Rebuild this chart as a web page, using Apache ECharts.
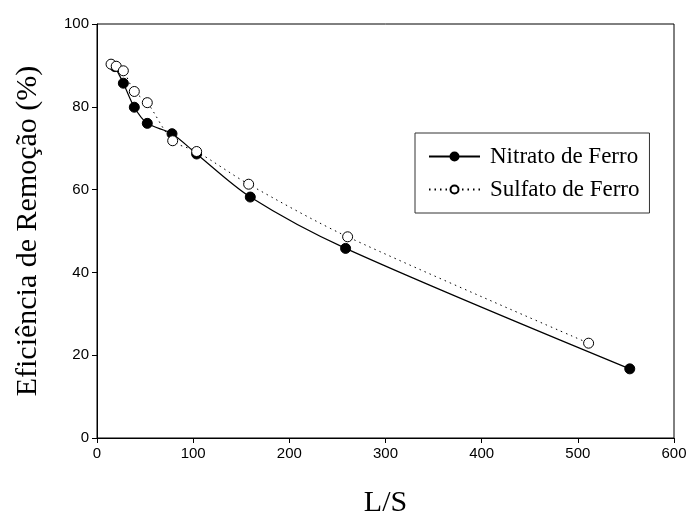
<!DOCTYPE html>
<html>
<head>
<meta charset="utf-8">
<script src="https://cdn.jsdelivr.net/npm/echarts@6/dist/echarts.min.js"></script>
<style>
  html, body { margin: 0; padding: 0; background: #fff; }
  #chart { width: 688px; height: 513px; }
</style>
</head>
<body>
<div id="chart"></div>
<script>
// Removal efficiency vs. liquid/solid ratio for two iron coagulants
const seriesNames = ['Nitrato de Ferro', 'Sulfato de Ferro'];

const nitratoLS  = [18.7, 27.4, 38.8, 52.3, 78.0, 103.6, 159.4, 258.5, 554.0];
const nitratoEff = [89.7, 85.7, 79.9, 76.0, 73.5, 68.6, 58.2, 45.8, 16.7];

const sulfatoLS  = [14.6, 20.0, 27.4, 38.8, 52.3, 78.7, 103.6, 157.7, 260.6, 511.2];
const sulfatoEff = [90.3, 89.8, 88.7, 83.7, 81.0, 71.8, 69.2, 61.3, 48.6, 22.9];

const xTicks = [0, 100, 200, 300, 400, 500, 600];
const yTicks = [0, 20, 40, 60, 80, 100];

const pair = (xs, ys) => xs.map((x, i) => [x, ys[i]]);

const serif = 'Liberation Serif, Times New Roman, serif';
const sans = 'Liberation Sans, Arial, sans-serif';

const chart = echarts.init(document.getElementById('chart'), null, { renderer: 'canvas' });

chart.setOption({
  animation: false,
  backgroundColor: '#fff',
  grid: {
    left: 97, right: 14, top: 24, bottom: 75,
    containLabel: false,
    outerBoundsMode: 'none',
    show: true, borderColor: '#000', borderWidth: 1, backgroundColor: 'transparent'
  },
  xAxis: {
    type: 'value',
    min: xTicks[0], max: xTicks[xTicks.length - 1], interval: 100,
    name: 'L/S', nameLocation: 'middle', nameGap: 50,
    nameTextStyle: { fontFamily: serif, fontSize: 30, color: '#000' },
    axisLine: { show: true, lineStyle: { color: '#000', width: 1 } },
    axisTick: { show: true, inside: false, length: 5, lineStyle: { color: '#000' } },
    axisLabel: { fontFamily: sans, fontSize: 15, color: '#000', margin: 8 },
    splitLine: { show: false }
  },
  yAxis: {
    type: 'value',
    min: yTicks[0], max: yTicks[yTicks.length - 1], interval: 20,
    name: 'Eficiência de Remoção (%)', nameLocation: 'middle', nameGap: 54,
    nameTextStyle: { fontFamily: serif, fontSize: 30, color: '#000' },
    axisLine: { show: true, lineStyle: { color: '#000', width: 1 } },
    axisTick: { show: true, inside: false, length: 5, lineStyle: { color: '#000' } },
    axisLabel: { fontFamily: sans, fontSize: 15, color: '#000', margin: 8 },
    splitLine: { show: false }
  },
  legend: {
    orient: 'vertical',
    left: 415, top: 133,
    padding: [12, 10, 12, 13],
    itemGap: 10,
    itemWidth: 51, itemHeight: 10,
    borderColor: '#333', borderWidth: 1,
    backgroundColor: '#fff',
    textStyle: { fontFamily: serif, fontSize: 23, color: '#000', padding: [0, 0, 0, 5] },
    data: seriesNames
  },
  series: [
    {
      name: seriesNames[0],
      type: 'line',
      smooth: 0.3,
      data: pair(nitratoLS, nitratoEff),
      symbol: 'circle', symbolSize: 10,
      itemStyle: { color: '#000', borderColor: '#000', borderWidth: 1 },
      lineStyle: { color: '#000', width: 1.2, type: 'solid' },
      z: 2
    },
    {
      name: seriesNames[1],
      type: 'line',
      smooth: 0.3,
      data: pair(sulfatoLS, sulfatoEff),
      symbol: 'circle', symbolSize: 10,
      itemStyle: { color: '#fff', borderColor: '#000', borderWidth: 1 },
      lineStyle: { color: '#000', width: 1, type: [1.5, 4] },
      z: 3
    }
  ]
});
</script>
</body>
</html>
